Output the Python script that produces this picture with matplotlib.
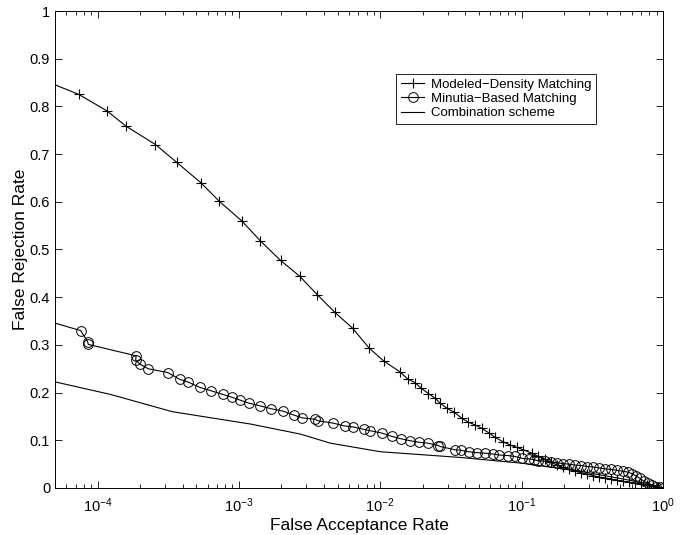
import matplotlib
matplotlib.use("Agg")
import matplotlib.pyplot as plt
from matplotlib.ticker import LogLocator, FixedLocator, FixedFormatter

plt.rcParams['font.family'] = ['Liberation Sans', 'DejaVu Sans']
plt.rcParams['mathtext.fontset'] = 'custom'
plt.rcParams['mathtext.rm'] = 'Liberation Sans'
plt.rcParams['mathtext.it'] = 'Liberation Sans'

# Modeled-Density Matching (FAR, FRR)
md_far = [4.0e-5, 7.38e-5, 1.16e-4, 1.60e-4, 2.57e-4, 3.62e-4, 5.38e-4, 7.27e-4,
          1.047e-3, 1.42e-3, 1.97e-3, 2.69e-3, 3.59e-3, 4.78e-3, 6.37e-3, 8.36e-3,
          1.06e-2, 1.37e-2, 1.57e-2, 1.76e-2, 1.95e-2, 2.19e-2, 2.45e-2, 2.65e-2,
          2.96e-2, 3.33e-2, 3.78e-2, 4.20e-2, 4.69e-2, 5.23e-2, 5.83e-2, 6.50e-2,
          7.37e-2, 8.30e-2, 9.25e-2, 0.103, 0.118, 0.131, 0.147, 0.162, 0.178,
          0.196, 0.217, 0.239, 0.263, 0.290, 0.320, 0.353, 0.389, 0.429, 0.473,
          0.522, 0.575, 0.634, 0.699, 0.770, 0.850, 0.922, 1.0]
md_frr = [0.857, 0.825, 0.791, 0.758, 0.720, 0.683, 0.640, 0.601,
          0.560, 0.518, 0.477, 0.444, 0.405, 0.368, 0.335, 0.293,
          0.266, 0.244, 0.228, 0.221, 0.209, 0.198, 0.188, 0.178,
          0.167, 0.159, 0.146, 0.138, 0.132, 0.125, 0.116, 0.106,
          0.097, 0.090, 0.085, 0.080, 0.073, 0.066, 0.060, 0.054, 0.048,
          0.043, 0.039, 0.035, 0.032, 0.029, 0.026, 0.023, 0.021, 0.019, 0.016,
          0.014, 0.012, 0.010, 0.008, 0.006, 0.004, 0.002, 0.0]

# Minutia-Based Matching (FAR, FRR)
mb_far = [4.0e-5, 7.59e-5, 8.50e-5, 8.60e-5, 1.876e-4, 1.86e-4, 2.01e-4, 2.28e-4,
          3.14e-4, 3.80e-4, 4.38e-4, 5.28e-4, 6.32e-4, 7.73e-4, 8.95e-4, 1.025e-3,
          1.173e-3, 1.42e-3, 1.70e-3, 2.06e-3, 2.44e-3, 2.80e-3, 3.47e-3, 3.61e-3,
          4.63e-3, 5.60e-3, 6.41e-3, 7.62e-3, 8.50e-3, 1.03e-2, 1.21e-2, 1.41e-2,
          1.63e-2, 1.87e-2, 2.17e-2, 2.58e-2, 2.65e-2, 3.39e-2, 3.72e-2, 4.21e-2,
          4.82e-2, 5.52e-2, 6.32e-2, 6.97e-2, 7.98e-2, 9.0e-2, 0.101, 0.112, 0.123,
          0.131, 0.147, 0.162, 0.178, 0.196, 0.217, 0.239, 0.263, 0.290, 0.320,
          0.353, 0.389, 0.429, 0.473, 0.522, 0.566, 0.604, 0.645, 0.688, 0.734,
          0.783, 0.836, 0.892, 0.952, 1.0]
mb_frr = [0.354, 0.330, 0.307, 0.301, 0.277, 0.268, 0.259, 0.250,
          0.242, 0.228, 0.222, 0.211, 0.204, 0.196, 0.190, 0.184,
          0.178, 0.172, 0.166, 0.161, 0.153, 0.147, 0.144, 0.141,
          0.136, 0.130, 0.128, 0.123, 0.120, 0.115, 0.108, 0.103,
          0.099, 0.096, 0.094, 0.089, 0.087, 0.080, 0.079, 0.076,
          0.074, 0.073, 0.071, 0.069, 0.068, 0.066, 0.062, 0.061, 0.059,
          0.057, 0.056, 0.055, 0.053, 0.051, 0.050, 0.048, 0.047, 0.045, 0.044,
          0.042, 0.040, 0.039, 0.037, 0.035, 0.033, 0.030, 0.025, 0.020, 0.014,
          0.010, 0.006, 0.003, 0.001, 0.0]

# Combination scheme (FAR, FRR)
cb_far = [4.0e-5, 1.24e-4, 3.37e-4, 1.21e-3, 2.72e-3, 4.43e-3, 1.0e-2, 3.67e-2,
          0.1, 0.259, 0.497, 0.81, 1.0]
cb_frr = [0.229, 0.196, 0.160, 0.134, 0.113, 0.094, 0.076, 0.064,
          0.052, 0.035, 0.020, 0.008, 0.0]

y_ticks = [0, 0.1, 0.2, 0.3, 0.4, 0.5, 0.6, 0.7, 0.8, 0.9, 1]
y_labels = ['0', '0.1', '0.2', '0.3', '0.4', '0.5', '0.6', '0.7', '0.8', '0.9', '1']

fig = plt.figure(figsize=(6.84, 5.35), dpi=100)
ax = fig.add_axes([0.0804, 0.0879, 0.8889, 0.8915])

ax.plot(md_far, md_frr, color='black', lw=0.8, marker='+', ms=7, mew=0.8,
        label='Modeled\u2212Density Matching')
ax.plot(mb_far, mb_frr, color='black', lw=0.8, marker='o', ms=7, mew=0.7,
        mfc='none', label='Minutia\u2212Based Matching', markevery=list(range(1, len(mb_far))))
ax.plot(cb_far, cb_frr, color='black', lw=0.8, label='Combination scheme')

ax.set_xscale('log')
ax.set_xlim(5e-5, 1)
ax.set_ylim(0, 1)
ax.xaxis.set_major_locator(LogLocator(base=10, numticks=10))
ax.xaxis.set_minor_locator(LogLocator(base=10, subs=range(2, 10), numticks=20))
ax.yaxis.set_major_locator(FixedLocator(y_ticks))
ax.yaxis.set_major_formatter(FixedFormatter(y_labels))

ax.tick_params(which='both', direction='in', top=True, right=True, labelsize=10.5,
               width=0.6, colors='black')
ax.tick_params(which='major', length=5)
ax.tick_params(which='minor', length=3)
ax.tick_params(axis='x', which='major', pad=6)
for s in ax.spines.values():
    s.set_linewidth(0.7)

ax.set_xlabel('False Acceptance Rate', fontsize=12.5, labelpad=2)
ax.set_ylabel('False Rejection Rate', fontsize=12.5, labelpad=1)

leg = ax.legend(loc='upper left', bbox_to_anchor=(0.561, 0.868), borderaxespad=0,
                fancybox=False, framealpha=1, edgecolor='black', fontsize=9.5,
                handlelength=1.8, handletextpad=0.5, labelspacing=0.15,
                borderpad=0.35, numpoints=1)
leg.get_frame().set_linewidth(0.6)

fig.savefig('out.png', dpi=100)
